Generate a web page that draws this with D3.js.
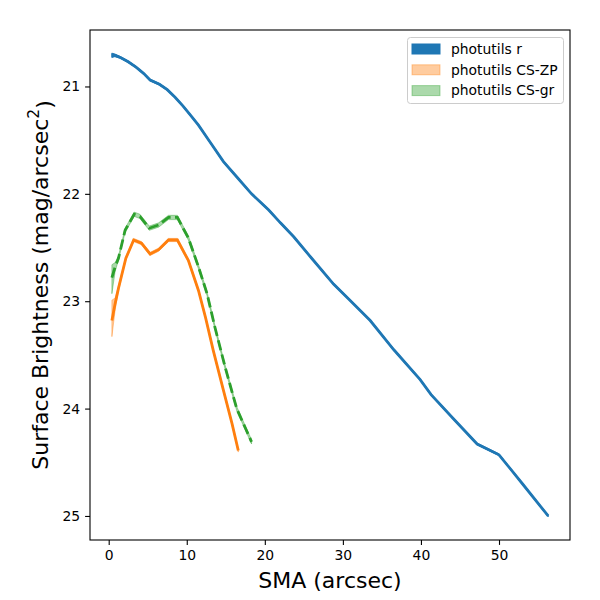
<!DOCTYPE html>
<html>
<head>
<meta charset="utf-8">
<script src="https://cdn.jsdelivr.net/npm/d3@7"></script>
<style>
    body { margin: 0; background: #fff; }
    text { font-family: "DejaVu Sans", sans-serif; fill: #000; }
</style>
</head>
<body>
<svg id="chart"></svg>
<script>
// photutils r profile
const rSma = [0.4, 0.8, 1.5, 2.5, 3.5, 4.5, 5.3, 6.5, 7.5, 8.5, 9.5, 10.5, 11.5, 13, 14.7, 16.5, 18.3, 20.5, 22, 23.7, 26, 28.8, 30.9, 33.5, 36.5, 39.9, 41.3, 44.1, 47.2, 50.0, 53, 56.3];
const rMag = [20.71, 20.71, 20.73, 20.77, 20.82, 20.88, 20.94, 20.98, 21.03, 21.1, 21.18, 21.27, 21.36, 21.52, 21.70, 21.85, 22.0, 22.15, 22.27, 22.40, 22.6, 22.84, 22.99, 23.18, 23.45, 23.73, 23.87, 24.09, 24.33, 24.43, 24.7, 25.0];
const rErr = [0.02, 0.012, 0.008, 0.008, 0.008, 0.008, 0.008, 0.008, 0.008, 0.008, 0.008, 0.008, 0.008, 0.008, 0.008, 0.008, 0.008, 0.008, 0.008, 0.008, 0.008, 0.008, 0.008, 0.008, 0.008, 0.008, 0.008, 0.008, 0.008, 0.008, 0.008, 0.008];

// photutils CS-ZP profile
const zpSma = [0.41, 0.83, 1.25, 2.2, 3.2, 4.2, 5.3, 6.4, 7.66, 8.8, 10.2, 11.5, 12.4, 13.4, 14.7, 15.8, 16.6];
const zpMag = [23.18, 23.02, 22.88, 22.6, 22.43, 22.46, 22.56, 22.52, 22.43, 22.43, 22.62, 22.9, 23.15, 23.46, 23.83, 24.14, 24.39];
const zpLow = [22.99, 22.97, 22.86, 22.585, 22.415, 22.445, 22.545, 22.505, 22.415, 22.415, 22.605, 22.885, 23.135, 23.445, 23.815, 24.125, 24.375];
const zpHigh = [23.33, 23.08, 22.9, 22.615, 22.445, 22.475, 22.575, 22.535, 22.445, 22.445, 22.635, 22.915, 23.165, 23.475, 23.845, 24.155, 24.405];

// photutils CS-gr profile
const grSma = [0.41, 0.83, 1.25, 2.1, 3.27, 4.0, 5.2, 6.4, 7.66, 8.8, 10.2, 11.5, 12.6, 13.6, 14.9, 16.4, 18.3];
const grMag = [22.78, 22.68, 22.6, 22.34, 22.19, 22.21, 22.32, 22.29, 22.22, 22.22, 22.41, 22.68, 22.93, 23.24, 23.61, 24.0, 24.31];
const grLow = [22.66, 22.64, 22.58, 22.32, 22.17, 22.19, 22.3, 22.27, 22.2, 22.2, 22.39, 22.66, 22.91, 23.22, 23.59, 23.98, 24.29];
const grHigh = [22.93, 22.72, 22.62, 22.36, 22.21, 22.23, 22.34, 22.31, 22.24, 22.24, 22.43, 22.7, 22.95, 23.26, 23.63, 24.02, 24.33];

const xTicks = [0, 10, 20, 30, 40, 50];
const yTicks = [21, 22, 23, 24, 25];
const seriesNames = ["photutils r", "photutils CS-ZP", "photutils CS-gr"];

class ProfileChart {
    constructor(_config) {
        this.config = {
            parentElement: _config.parentElement,
            containerWidth: 600,
            containerHeight: 600,
            margin: { top: 30, right: 30, bottom: 60, left: 90 }
        };
        this.initVis();
    }

    initVis() {
        let vis = this;
        const m = vis.config.margin;
        vis.width = vis.config.containerWidth - m.left - m.right;
        vis.height = vis.config.containerHeight - m.top - m.bottom;

        vis.svg = d3.select(vis.config.parentElement)
            .attr("width", vis.config.containerWidth)
            .attr("height", vis.config.containerHeight);

        vis.chart = vis.svg.append("g")
            .attr("transform", `translate(${m.left},${m.top})`);

        // build row objects for each series
        vis.series = [
            { name: seriesNames[0], color: "#1f77b4", bandOpacity: 1, dash: null,
              rows: rSma.map((s, i) => ({ x: s, y: rMag[i], lo: rMag[i] - rErr[i], hi: rMag[i] + rErr[i] })) },
            { name: seriesNames[1], color: "#ff7f0e", bandOpacity: 0.4, dash: null,
              rows: zpSma.map((s, i) => ({ x: s, y: zpMag[i], lo: zpLow[i], hi: zpHigh[i] })) },
            { name: seriesNames[2], color: "#2ca02c", bandOpacity: 0.4, dash: "10.3,4.4",
              rows: grSma.map((s, i) => ({ x: s, y: grMag[i], lo: grLow[i], hi: grHigh[i] })) }
        ];

        // matplotlib style 5% margins
        const all = vis.series.flatMap(s => s.rows);
        const xExt = d3.extent(all, d => d.x);
        const yExt = [d3.min(all, d => d.lo), d3.max(all, d => d.hi)];
        const xPad = (xExt[1] - xExt[0]) * 0.05;
        const yPad = (yExt[1] - yExt[0]) * 0.05;

        vis.xScale = d3.scaleLinear()
            .domain([xExt[0] - xPad, xExt[1] + xPad])
            .range([0, vis.width]);

        // magnitudes: brighter at the top
        vis.yScale = d3.scaleLinear()
            .domain([yExt[0] - yPad, yExt[1] + yPad])
            .range([0, vis.height]);

        vis.xAxisG = vis.chart.append("g")
            .attr("transform", `translate(0,${vis.height})`)
            .call(d3.axisBottom(vis.xScale).tickValues(xTicks).tickSize(4.9).tickPadding(4.9).tickFormat(d3.format("d")));
        vis.yAxisG = vis.chart.append("g")
            .call(d3.axisLeft(vis.yScale).tickValues(yTicks).tickSize(4.9).tickPadding(4.9).tickFormat(d3.format("d")));

        [vis.xAxisG, vis.yAxisG].forEach(g => {
            g.select(".domain").remove();
            g.selectAll(".tick line").attr("stroke", "#000").attr("stroke-width", 1.1);
            g.selectAll(".tick text")
                .style("font-family", "DejaVu Sans")
                .style("font-size", "13.9px")
                .attr("fill", "#000");
        });

        vis.updateVis();

        // frame
        vis.chart.append("rect")
            .attr("width", vis.width)
            .attr("height", vis.height)
            .attr("fill", "none")
            .attr("stroke", "#000")
            .attr("stroke-width", 1.1);

        // axis titles
        vis.svg.append("text")
            .attr("x", m.left + vis.width / 2)
            .attr("y", 588)
            .attr("text-anchor", "middle")
            .style("font-size", "22px")
            .text("SMA (arcsec)");

        const yl = vis.svg.append("text")
            .attr("transform", `translate(48,${m.top + vis.height / 2}) rotate(-90)`)
            .attr("text-anchor", "middle")
            .style("font-size", "22px");
        yl.append("tspan").text("Surface Brightness (mag/arcsec");
        yl.append("tspan").attr("dy", "-0.55em").style("font-size", "15.5px").text("2");
        yl.append("tspan").attr("dy", "0.55em").text(")");

        vis.createLegend();
    }

    updateVis() {
        let vis = this;

        const area = d3.area()
            .x(d => vis.xScale(d.x))
            .y0(d => vis.yScale(d.lo))
            .y1(d => vis.yScale(d.hi));
        const line = d3.line()
            .x(d => vis.xScale(d.x))
            .y(d => vis.yScale(d.y));

        vis.series.forEach(s => {
            vis.chart.append("path")
                .datum(s.rows)
                .attr("d", area)
                .attr("fill", s.color)
                .attr("fill-opacity", s.bandOpacity)
                .attr("stroke", s.color)
                .attr("stroke-opacity", s.bandOpacity)
                .attr("stroke-width", 1);
            vis.chart.append("path")
                .datum(s.rows)
                .attr("d", line)
                .attr("fill", "none")
                .attr("stroke", s.color)
                .attr("stroke-width", 2.8)
                .attr("stroke-dasharray", s.dash);
        });
    }

    createLegend() {
        let vis = this;
        const lx = 407.5, ly = 37.5, lw = 156, lh = 66;

        const legend = vis.svg.append("g");
        legend.append("rect")
            .attr("x", lx)
            .attr("y", ly)
            .attr("width", lw)
            .attr("height", lh)
            .attr("rx", 3)
            .attr("fill", "#fff")
            .attr("fill-opacity", 0.8)
            .attr("stroke", "#cccccc")
            .attr("stroke-width", 1);

        vis.series.forEach((s, i) => {
            const cy = 49 + i * 20.8;
            legend.append("rect")
                .attr("x", 412)
                .attr("y", cy - 5)
                .attr("width", 28)
                .attr("height", 10)
                .attr("fill", s.color)
                .attr("fill-opacity", s.bandOpacity)
                .attr("stroke", s.color)
                .attr("stroke-opacity", s.bandOpacity);
            legend.append("text")
                .attr("x", 451)
                .attr("y", cy)
                .attr("dy", "0.35em")
                .style("font-size", "13.9px")
                .text(s.name);
        });
    }
}

new ProfileChart({ parentElement: "#chart" });
</script>
</body>
</html>
